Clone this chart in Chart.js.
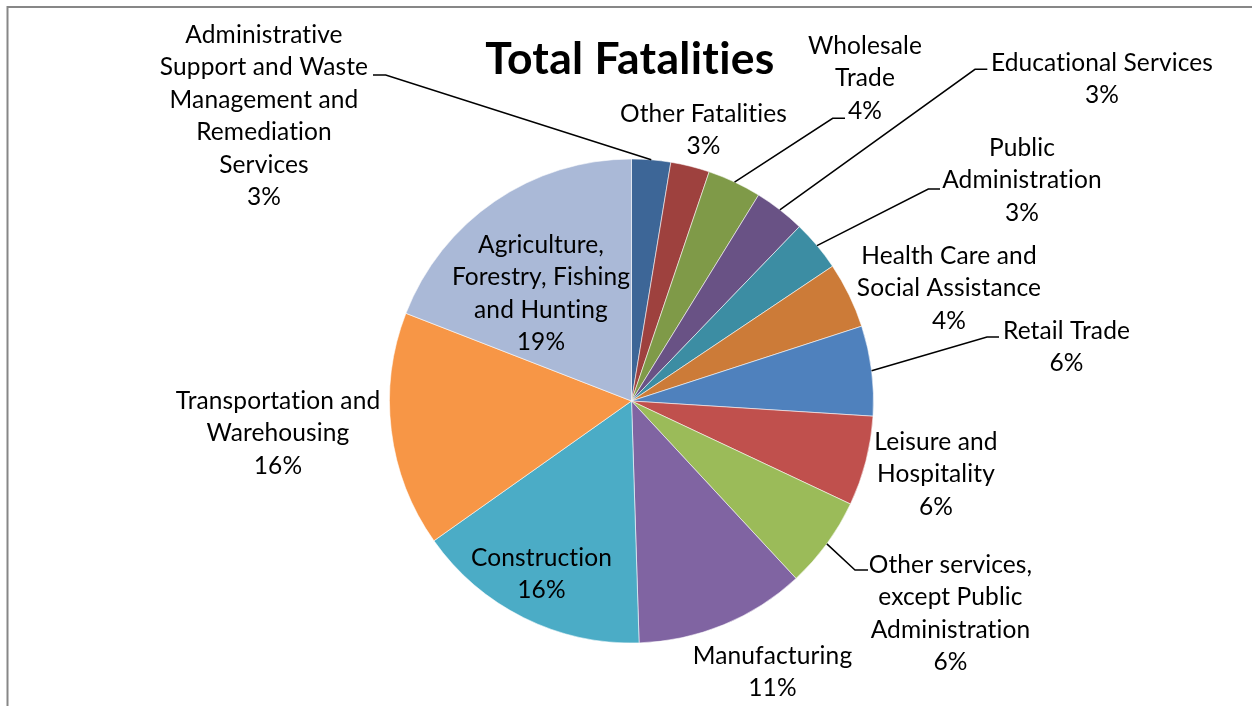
<!DOCTYPE html>
<html>
<head>
<meta charset="utf-8">
<script src="https://cdn.jsdelivr.net/npm/chart.js@4/dist/chart.umd.min.js"></script>
<style>
  html, body { margin: 0; padding: 0; background: #fff; }
  #wrap { width: 1252px; height: 706px; }
</style>
</head>
<body>
<div id="wrap"><canvas id="c" width="1252" height="706"></canvas></div>
<script>
// ---- data ----
const chartTitle = 'Total Fatalities';
const categories = [
  ['Administrative', 'Support and Waste', 'Management and', 'Remediation', 'Services'],
  ['Other Fatalities'],
  ['Wholesale', 'Trade'],
  ['Educational Services'],
  ['Public', 'Administration'],
  ['Health Care and', 'Social Assistance'],
  ['Retail Trade'],
  ['Leisure and', 'Hospitality'],
  ['Other services,', 'except Public', 'Administration'],
  ['Manufacturing'],
  ['Construction'],
  ['Transportation and', 'Warehousing'],
  ['Agriculture,', 'Forestry, Fishing', 'and Hunting']
];
const shares = [2.6, 2.6, 3.6, 3.4, 3.4, 4.4, 6.0, 6.0, 6.1, 11.4, 15.7, 15.7, 19.1];
const sliceColors = ['#3D6697', '#9E413E', '#7F9A48', '#695285', '#3C8DA3', '#CC7B38',
                     '#4F81BD', '#C0504D', '#9BBB59', '#8064A2', '#4BACC6', '#F79646', '#AAB9D7'];

// ---- label layout (offsets from pie centre, px) ----
const labelPos = [
  [-367.5, -366], [72, -287], [233.5, -355], [470.5, -338], [390.5, -253], [317.5, -145],
  [435, -70], [304.5, 41], [319, 164], [141, 255], [-90, 157], [-353.5, 0], [-90.5, -156]
];
const leaderPts = [
  [[-245.8, -326], [-258.5, -326]],
  null,
  [[201.2, -282.7], [213.5, -282.7]],
  [[343.5, -331.7], [355.8, -331.7]],
  [[296.8, -212], [308.5, -212]],
  null,
  [[355.5, -64], [367.5, -64]],
  null,
  [[223.5, 169], [236.5, 169]],
  null, null, null, null
];

const LABEL_FONT = '24.5px Lato';
const TITLE_FONT = 'bold 44.5px Lato';
const LINE_H = 32.5;

const framePlugin = {
  id: 'frame',
  beforeDraw(chart) {
    const ctx = chart.ctx;
    ctx.save();
    ctx.fillStyle = '#fff';
    ctx.fillRect(0, 0, chart.width, chart.height);
    ctx.strokeStyle = '#878787';
    ctx.lineWidth = 2;
    ctx.beginPath();
    ctx.moveTo(7.5, chart.height + 5);
    ctx.lineTo(7.5, 7);
    ctx.lineTo(chart.width + 5, 7);
    ctx.stroke();
    ctx.restore();
  }
};

const labelPlugin = {
  id: 'pieLabels',
  afterDatasetsDraw(chart) {
    const ctx = chart.ctx;
    const meta = chart.getDatasetMeta(0);
    const data = chart.data.datasets[0].data;
    const total = data.reduce((a, b) => a + b, 0);
    ctx.save();
    const arc0 = meta.data[0];
    const cx = arc0.x;
    ctx.fillStyle = '#000';
    ctx.textAlign = 'center';
    ctx.textBaseline = 'middle';
    ctx.font = TITLE_FONT;
    if ('letterSpacing' in ctx) ctx.letterSpacing = '0.3px';
    ctx.fillText(chartTitle, cx - 1.5, 60);

    ctx.font = LABEL_FONT;
    if ('letterSpacing' in ctx) ctx.letterSpacing = '0.12px';
    ctx.strokeStyle = '#000';
    ctx.lineWidth = 1.5;
    meta.data.forEach((arc, i) => {
      const p = arc.getProps(['x', 'y', 'startAngle', 'endAngle', 'outerRadius'], true);
      const mid = (p.startAngle + p.endAngle) / 2;
      const ax = p.x + Math.cos(mid) * p.outerRadius;
      const ay = p.y + Math.sin(mid) * p.outerRadius;
      const lp = leaderPts[i];
      if (lp) {
        ctx.beginPath();
        ctx.moveTo(ax, ay);
        lp.forEach(pt => ctx.lineTo(p.x + pt[0], p.y + pt[1]));
        ctx.stroke();
      }
      const lines = categories[i].concat([Math.round(data[i] / total * 100) + '%']);
      const tx = p.x + labelPos[i][0];
      const ty = p.y + labelPos[i][1];
      lines.forEach((ln, k) => ctx.fillText(ln, tx, ty + k * LINE_H));
    });
    ctx.restore();
  }
};

new Chart(document.getElementById('c'), {
  type: 'pie',
  data: {
    labels: categories,
    datasets: [{
      data: shares,
      backgroundColor: sliceColors,
      borderColor: 'rgba(255,255,255,0.55)',
      borderWidth: 1
    }]
  },
  options: {
    responsive: false,
    animation: false,
    layout: { padding: { top: 158.5, bottom: 62.5, left: 389, right: 378 } },
    plugins: {
      legend: { display: false },
      tooltip: { enabled: false },
      title: { display: false }
    }
  },
  plugins: [framePlugin, labelPlugin]
});
</script>
</body>
</html>
